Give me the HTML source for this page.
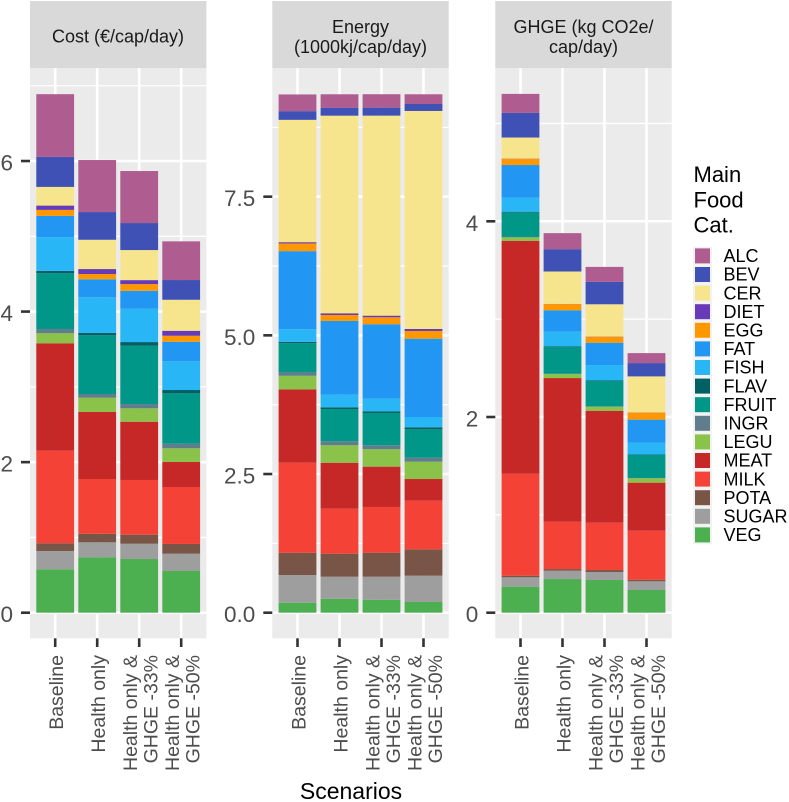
<!DOCTYPE html>
<html lang="en">
<head>
<meta charset="utf-8">
<title>Stacked bars by scenario</title>
<style>
html,body{margin:0;padding:0;background:#fff;}
body{width:789px;height:802px;overflow:hidden;}
svg{display:block;font-family:"Liberation Sans",Arial,sans-serif;filter:blur(0.3px);}
</style>
</head>
<body>
<svg id="chart" xmlns="http://www.w3.org/2000/svg" width="789" height="802" viewBox="0 0 789 802">
  <g>
    <rect x="30" y="1" width="176.4" height="67.3" fill="#D9D9D9"/>
    <rect x="272.3" y="1" width="176.4" height="67.3" fill="#D9D9D9"/>
    <rect x="495.3" y="1" width="176.4" height="67.3" fill="#D9D9D9"/>
    <text x="118" y="42.5" font-size="18" fill="#1A1A1A" text-anchor="middle">Cost (€/cap/day)</text>
    <text x="360.5" y="33" font-size="18" fill="#1A1A1A" text-anchor="middle">Energy</text>
    <text x="360.5" y="53" font-size="18" fill="#1A1A1A" text-anchor="middle">(1000kj/cap/day)</text>
    <text x="583.5" y="33" font-size="18" fill="#1A1A1A" text-anchor="middle">GHGE (kg CO2e/</text>
    <text x="583.5" y="53" font-size="18" fill="#1A1A1A" text-anchor="middle">cap/day)</text>
  </g>
  <g id="panels"></g>
  <text x="351" y="799" font-size="23" fill="#000" text-anchor="middle">Scenarios</text>
  <g id="legend">
    <text x="693.5" y="182" font-size="22" fill="#000">Main</text>
    <text x="693.5" y="207.5" font-size="22" fill="#000">Food</text>
    <text x="693.5" y="232.5" font-size="22" fill="#000">Cat.</text>
  </g>
</svg>
<script>
// Stack order is bottom to top.
const stackOrder = ["VEG","SUGAR","POTA","MILK","MEAT","LEGU","INGR","FRUIT","FLAV","FISH","FAT","EGG","DIET","CER","BEV","ALC"];
const legendOrder = ["ALC","BEV","CER","DIET","EGG","FAT","FISH","FLAV","FRUIT","INGR","LEGU","MEAT","MILK","POTA","SUGAR","VEG"];
const scenarioLabels = [["Baseline"],["Health only"],["Health only &","GHGE -33%"],["Health only &","GHGE -50%"]];

// Values follow stackOrder.
const costBaseline = [0.577,0.243,0.102,1.230,1.427,0.133,0.057,0.740,0.031,0.448,0.283,0.080,0.057,0.248,0.399,0.833];
const costHealth   = [0.736,0.199,0.114,0.727,0.890,0.190,0.049,0.780,0.031,0.474,0.239,0.070,0.066,0.389,0.368,0.691];
const cost33       = [0.713,0.203,0.120,0.727,0.774,0.178,0.057,0.774,0.049,0.442,0.239,0.089,0.053,0.399,0.359,0.691];
const cost50       = [0.554,0.230,0.129,0.757,0.332,0.182,0.061,0.669,0.044,0.381,0.260,0.080,0.066,0.412,0.262,0.514];

const energyBaseline = [0.180,0.499,0.402,1.622,1.323,0.245,0.061,0.528,0.023,0.229,1.406,0.139,0.023,2.205,0.157,0.301];
const energyHealth   = [0.252,0.397,0.415,0.811,0.829,0.314,0.072,0.582,0.031,0.227,1.329,0.108,0.031,3.562,0.144,0.242];
const energy33       = [0.234,0.415,0.433,0.824,0.727,0.314,0.072,0.582,0.031,0.227,1.341,0.126,0.029,3.606,0.144,0.242];
const energy50       = [0.193,0.474,0.476,0.876,0.391,0.312,0.072,0.512,0.036,0.186,1.412,0.139,0.036,3.930,0.126,0.175];

const ghgeBaseline = [0.266,0.096,0.016,1.042,2.381,0.035,0.004,0.251,0.007,0.143,0.334,0.064,0.002,0.215,0.252,0.194];
const ghgeHealth   = [0.344,0.085,0.017,0.483,1.469,0.041,0.003,0.273,0.007,0.150,0.218,0.064,0.002,0.331,0.228,0.164];
const ghge33       = [0.334,0.082,0.020,0.483,1.145,0.041,0.003,0.260,0.006,0.157,0.228,0.061,0.002,0.330,0.229,0.153];
const ghge50       = [0.232,0.089,0.016,0.501,0.491,0.045,0.003,0.235,0.006,0.120,0.235,0.072,0.002,0.368,0.136,0.102];

const costTicks = ["0","2","4","6"];
const energyTicks = ["0.0","2.5","5.0","7.5"];
const ghgeTicks = ["0","2","4"];

const palette = {ALC:"#AF5C90",BEV:"#3F51B5",CER:"#F7E58E",DIET:"#673AB7",EGG:"#FF9800",FAT:"#2196F3",FISH:"#29B6F6",FLAV:"#006064",FRUIT:"#009688",INGR:"#607D8B",LEGU:"#8BC34A",MEAT:"#C62828",MILK:"#F44336",POTA:"#795548",SUGAR:"#9E9E9E",VEG:"#4CAF50"};

const NS = "http://www.w3.org/2000/svg";
const panelTop = 68.3, panelBottom = 638.3, panelWidth = 176.4, zeroY = 612.7;

function svgEl(tag, parent, props) {
  const el = document.createElementNS(NS, tag);
  for (const key in props) el.setAttribute(key, props[key]);
  parent.appendChild(el);
  return el;
}

function drawPanel(panelKey, left, pxPerUnit, ticks, columns) {
  const root = document.getElementById("panels");
  const xAt = i => left + (i + 0.6) * (panelWidth / 4.2);
  const yAt = v => zeroY - v * pxPerUnit;
  const step = Number(ticks[1]) - Number(ticks[0]);

  const g = svgEl("g", root, {});
  
  

  const bg = svgEl("rect", g, {x:left, y:panelTop, width:panelWidth, height:panelBottom-panelTop, fill:"#EBEBEB"});
  
  

  // Minor then major horizontal gridlines.
  for (let m = 0; yAt(m * step / 2) >= panelTop; m++) {
    const y = yAt(m * step / 2);
    const line = svgEl("line", g, {x1:left, x2:left+panelWidth, y1:y, y2:y, stroke:"#fff", "stroke-width": m % 2 ? 1.3 : 2.5});
    
    
  }

  scenarioLabels.forEach((lines, i) => {
    const x = xAt(i);
    const grid = svgEl("line", g, {x1:x, x2:x, y1:panelTop, y2:panelBottom, stroke:"#fff", "stroke-width":2.6});
    
    

    const tick = svgEl("line", g, {x1:x, x2:x, y1:panelBottom, y2:647, stroke:"#333", "stroke-width":2.6});
    
    

    lines.forEach((txt, li) => {
      const bx = lines.length === 1 ? x + 8 : x - 2 + li * 20.5;
      const t = svgEl("text", g, {x:bx, y:655, "font-size":19.5, fill:"#4D4D4D", "text-anchor":"end", transform:"rotate(-90 " + bx + " 655)"});
      t.textContent = txt;
      
      
    });
  });

  // Stacked bars.
  columns.forEach((values, i) => {
    let running = 0;
    const barWidth = 0.9 * panelWidth / 4.2;
    values.forEach((v, c) => {
      const yTop = yAt(running + v);
      const yBase = yAt(running);
      running += v;
      const cat = stackOrder[c];
      const bar = svgEl("rect", g, {x:xAt(i)-barWidth/2, y:yTop, width:barWidth, height:yBase-yTop, fill:palette[cat]});
      
      
    });
  });

  // Y axis.
  ticks.forEach(label => {
    const y = yAt(Number(label));
    const tick = svgEl("line", g, {x1:left-9, x2:left, y1:y, y2:y, stroke:"#333", "stroke-width":2.6});
    
    
    const t = svgEl("text", g, {x:left-17, y:y+9.5, "font-size":22.5, fill:"#4D4D4D", "text-anchor":"end"});
    t.textContent = label;
    
    
  });
}

drawPanel("cost", 30, 75.28, costTicks, [costBaseline, costHealth, cost33, cost50]);
drawPanel("energy", 272.3, 55.47, energyTicks, [energyBaseline, energyHealth, energy33, energy50]);
drawPanel("ghge", 495.3, 97.85, ghgeTicks, [ghgeBaseline, ghgeHealth, ghge33, ghge50]);

const legend = document.getElementById("legend");
legendOrder.forEach((cat, i) => {
  const top = 246.7 + i * 18.6;
  const entry = svgEl("g", legend, {});
  
  
  const keyBg = svgEl("rect", entry, {x:693, y:top, width:19, height:18.6, fill:"#F2F2F2"});
  
  
  const swatch = svgEl("rect", entry, {x:695, y:top+1.7, width:15, height:15, fill:palette[cat]});
  
  
  const label = svgEl("text", entry, {x:723.5, y:top+15.4, "font-size":18, fill:"#000"});
  label.textContent = cat;
  
  
});
</script>
</body>
</html>
